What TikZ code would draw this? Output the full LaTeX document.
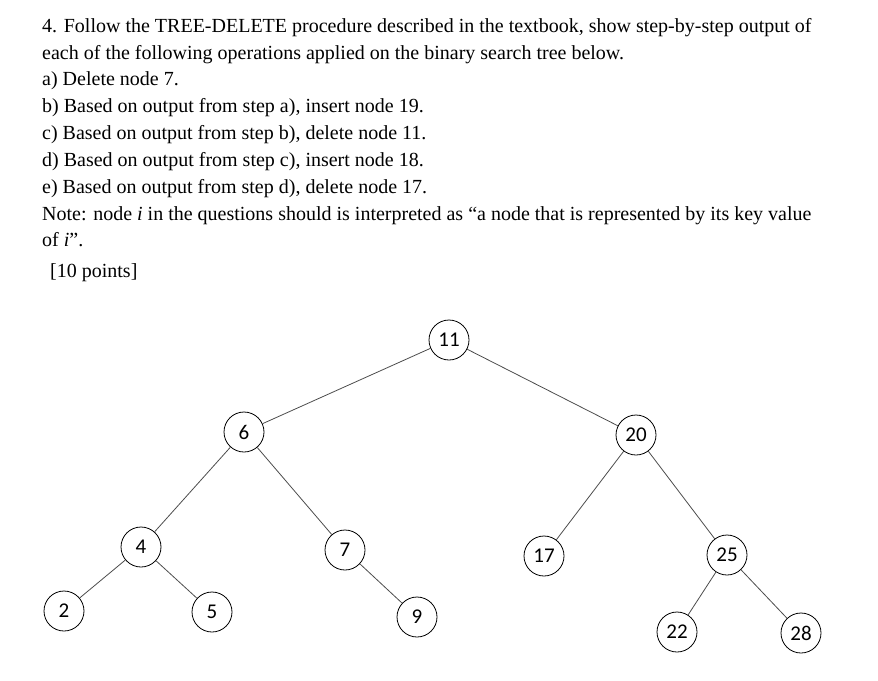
\documentclass[tikz,border=0pt]{standalone}
\usepackage{fontspec}
\setmainfont{Liberation Serif}
\newfontfamily\nodefont{Carlito}
\begin{document}
\begin{tikzpicture}[x=1pt,y=-1pt,
  txt/.style={anchor=base west,inner sep=0pt,font=\fontsize{20}{22}\selectfont},
  bst/.style={circle,draw,thick,minimum size=40pt,inner sep=0pt,font=\nodefont\fontsize{21}{23}\selectfont},
  edge/.style={draw=black!70,thick}]
\useasboundingbox (0,0) rectangle (878,680);
\node[txt] (l1) at (42,32) {4. Follow the TREE-DELETE procedure described in the textbook, show step-by-step output of};
\node[txt] (l2) at (42,59) {each of the following operations applied on the binary search tree below.};
\node[txt] (l3) at (42,85) {a) Delete node 7.};
\node[txt] (l4) at (42,112) {b) Based on output from step a), insert node 19.};
\node[txt] (l5) at (42,139) {c) Based on output from step b), delete node 11.};
\node[txt] (l6) at (42,166) {d) Based on output from step c), insert node 18.};
\node[txt] (l7) at (42,193) {e) Based on output from step d), delete node 17.};
\node[txt] (l8) at (42,220) {Note: node \textit{i} in the questions should is interpreted as “a node that is represented by its key value};
\node[txt] (l9) at (42,246) {of \textit{i}”.};
\node[txt] (l10) at (50,277) {[10 points]};
\node[bst] (n11) at (449,340) {11};
\node[bst] (n6) at (244,432) {6};
\node[bst] (n20) at (636,435) {20};
\node[bst] (n4) at (141,547) {4};
\node[bst] (n7) at (345,550) {7};
\node[bst] (n17) at (544,556) {17};
\node[bst] (n25) at (727,555) {25};
\node[bst] (n2) at (64,611) {2};
\node[bst] (n5) at (212,612) {5};
\node[bst] (n9) at (417,617) {9};
\node[bst] (n22) at (677,632) {22};
\node[bst] (n28) at (801,633) {28};
\foreach \a/\b in {n11/n6,n11/n20,n6/n4,n6/n7,n20/n17,n20/n25,n4/n2,n4/n5,n7/n9,n25/n22,n25/n28}
  \draw[edge] (\a) -- (\b);
\end{tikzpicture}
\end{document}
